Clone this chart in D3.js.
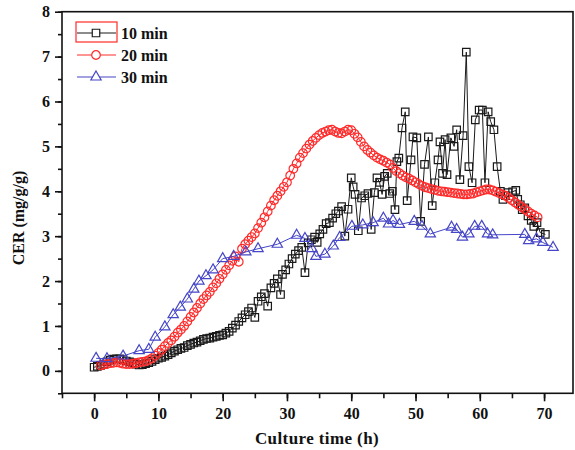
<!DOCTYPE html>
<html>
<head>
<meta charset="utf-8">
<script src="https://cdn.jsdelivr.net/npm/d3@7"></script>
<style>
  html, body { margin: 0; padding: 0; background: #fff; }
  svg { display: block; }
  text { font-family: "Liberation Serif", "Times New Roman", serif; font-weight: bold; fill: #111; }
</style>
</head>
<body>
<svg id="chart" width="575" height="450"></svg>
<script>
// 10 min interval: culture time (h) and CER (mg/g/g)
const t10 = [0.0,0.5,1.0,1.5,2.0,2.5,3.0,3.5,4.0,4.5,5.0,5.5,6.0,6.5,7.0,7.5,8.0,8.5,9.0,9.5,
  10.0,10.5,11.0,11.5,12.0,12.5,13.0,13.5,14.0,14.5,15.0,15.5,16.0,16.5,17.0,17.5,18.0,18.5,19.0,19.5,
  20.0,20.5,21.0,21.5,22.0,22.5,23.0,23.5,24.0,24.5,25.0,25.5,26.0,26.5,27.0,27.5,28.0,28.5,29.0,29.3,
  29.8,30.3,30.8,31.3,31.8,32.3,32.8,33.3,33.8,34.3,34.7,35.1,35.6,36.1,36.6,37.1,37.6,38.0,38.5,39.0,
  39.5,40.0,40.3,40.6,41.1,41.6,42.1,42.6,43.1,43.6,44.0,44.4,44.8,45.2,45.6,46.0,46.4,46.8,47.1,47.4,
  47.9,48.4,48.7,49.3,49.6,50.2,50.8,51.4,52.0,52.6,53.0,53.5,53.8,54.2,54.6,54.9,55.5,56.0,56.4,56.9,
  57.4,57.9,58.3,58.8,59.3,59.9,60.4,60.8,61.3,61.7,62.2,62.7,63.2,63.6,64.0,64.4,65.1,65.6,65.9,66.3,
  66.6,67.0,67.5,68.0,68.4,68.9,69.4,70.2];
const cer10 = [0.08,0.10,0.12,0.15,0.20,0.24,0.26,0.27,0.27,0.25,0.22,0.20,0.18,0.15,0.13,0.14,0.16,0.18,0.21,0.25,
  0.28,0.30,0.33,0.36,0.40,0.44,0.47,0.50,0.52,0.56,0.59,0.62,0.64,0.67,0.70,0.72,0.73,0.75,0.77,0.79,
  0.80,0.84,0.88,0.95,1.02,1.10,1.18,1.25,1.32,1.40,1.19,1.55,1.65,1.72,1.44,1.85,1.95,2.05,1.70,2.15,
  2.25,2.38,2.50,2.60,2.68,2.75,2.19,2.85,2.92,2.98,2.86,3.05,3.15,3.28,3.30,3.40,3.50,3.56,3.66,3.00,
  3.60,4.30,4.10,3.93,3.12,3.85,3.90,3.95,3.15,3.97,4.30,4.20,3.93,4.33,4.40,3.95,4.00,3.59,4.66,4.74,
  5.41,5.77,3.79,4.70,5.21,5.19,3.33,4.60,5.21,3.68,4.19,4.70,5.10,4.40,5.15,4.37,5.19,5.00,5.37,4.26,
  5.24,7.10,4.55,4.19,5.59,5.81,5.81,4.19,5.77,5.55,5.37,4.55,4.00,3.82,3.90,3.97,3.99,4.02,3.82,3.70,
  3.59,3.63,3.45,3.35,3.22,3.30,3.08,3.04];

// 20 min interval
const t20 = [1.0,1.5,2.0,2.5,3.0,3.5,4.0,4.5,5.0,5.5,6.0,6.5,7.0,7.5,8.0,8.5,9.0,9.5,
  10.0,10.5,11.0,11.5,12.0,12.5,13.0,13.5,14.0,14.5,15.0,15.5,16.0,16.5,17.0,17.5,18.0,18.5,19.0,19.5,
  20.0,20.5,21.0,21.5,22.0,22.5,23.0,23.5,24.0,24.5,25.0,25.5,26.0,26.5,27.0,27.5,28.0,28.5,29.0,29.5,
  30.0,30.5,31.0,31.5,32.0,32.5,33.0,33.5,34.0,34.5,35.0,35.5,36.0,36.5,37.0,37.5,38.0,38.5,39.0,39.5,
  40.0,40.5,41.0,41.5,42.0,42.5,43.0,43.5,44.0,44.5,45.0,45.5,46.0,46.5,47.0,47.5,48.0,48.5,49.0,49.5,
  50.0,50.5,51.0,51.5,52.0,52.5,53.0,53.5,54.0,54.5,55.0,55.5,56.0,56.5,57.0,57.5,58.0,58.5,59.0,59.5,
  60.0,60.5,61.0,61.5,62.0,62.5,63.0,63.5,64.0,64.5,65.0,65.5,66.0,66.5,67.0,67.5,68.0,68.5,69.0];
const cer20 = [0.12,0.14,0.15,0.17,0.18,0.19,0.18,0.16,0.15,0.15,0.16,0.17,0.19,0.20,0.21,0.24,0.28,0.34,
  0.40,0.47,0.55,0.62,0.68,0.76,0.85,0.92,1.00,1.10,1.20,1.30,1.40,1.50,1.60,1.68,1.76,1.86,1.95,2.05,
  2.15,2.25,2.35,2.45,2.55,2.43,2.72,2.82,2.90,2.98,3.06,3.18,3.30,3.42,3.55,3.68,3.80,3.90,4.00,4.10,
  4.20,4.35,4.50,4.62,4.75,4.85,4.95,5.04,5.12,5.19,5.25,5.30,5.33,5.36,5.37,5.33,5.30,5.29,5.33,5.37,
  5.36,5.28,5.20,5.10,5.00,4.92,4.86,4.80,4.75,4.71,4.68,4.64,4.60,4.52,4.45,4.40,4.35,4.31,4.28,4.24,
  4.20,4.16,4.12,4.09,4.07,4.05,4.03,4.01,4.00,3.99,3.98,3.97,3.96,3.95,3.94,3.93,3.93,3.94,3.95,3.98,
  4.00,4.02,4.04,4.04,4.02,3.99,3.96,3.93,3.90,3.85,3.80,3.75,3.70,3.65,3.60,3.55,3.50,3.46,3.42];

// 30 min interval
const t30 = [0.3,2.0,4.5,7.0,8.5,9.5,11.0,12.3,13.4,14.5,15.5,16.3,17.4,18.5,20.0,21.7,23.6,25.5,28.5,31.5,
  32.8,33.9,34.5,35.9,37.2,38.2,40.1,41.8,43.4,45.0,45.8,46.5,47.5,49.8,51.0,52.3,55.6,56.4,57.3,58.3,
  59.2,60.3,61.2,62.0,67.0,67.6,68.8,69.8,71.4];
const cer30 = [0.28,0.27,0.33,0.45,0.48,0.75,0.98,1.25,1.42,1.60,1.82,2.00,2.12,2.25,2.50,2.55,2.65,2.72,2.82,3.02,
  2.95,2.72,2.55,2.60,2.78,2.97,3.22,3.25,3.30,3.40,3.27,3.35,3.26,3.33,3.22,3.05,3.20,3.15,2.98,3.05,
  3.22,3.22,3.05,3.03,3.04,2.90,2.94,2.86,2.75];

const seriesNames = ["10 min", "20 min", "30 min"];
const xTicks = [0, 10, 20, 30, 40, 50, 60, 70];
const yTicks = [0, 1, 2, 3, 4, 5, 6, 7, 8];
const xTitle = "Culture time (h)";
const yTitle = "CER (mg/g/g)";

const series = [
  { name: seriesNames[0], t: t10, v: cer10, color: "#1a1a1a", symbol: d3.symbolSquare, size: 56 },
  { name: seriesNames[1], t: t20, v: cer20, color: "#ff2b2b", symbol: d3.symbolCircle, size: 58 },
  { name: seriesNames[2], t: t30, v: cer30, color: "#4646c8", symbol: d3.symbolTriangle, size: 46 }
];

const FONT = '"Liberation Serif", "Times New Roman", serif';
const svg = d3.select("#chart");
const plotL = 62, plotR = 573, plotT = 11.7, plotB = 393.3;

const x = d3.scaleLinear().domain([-5, 74.5]).range([plotL, plotR]);
const y = d3.scaleLinear().domain([-0.5, 8]).range([plotB, plotT]);

// frame
svg.append("rect")
  .attr("x", plotL).attr("y", plotT)
  .attr("width", plotR - plotL).attr("height", plotB - plotT)
  .attr("fill", "none").attr("stroke", "#111").attr("stroke-width", 1.6);

function styleTicks(g) {
  g.select(".domain").remove();
  g.selectAll("line").attr("stroke", "#111").attr("stroke-width", 1.6);
  g.selectAll("text").attr("font-size", 16).attr("font-family", FONT)
    .attr("font-weight", "bold").attr("fill", "#111");
}

// x axis: minor and major ticks
const xMinor = d3.range(-5, 75, 5);
svg.append("g").attr("transform", `translate(0,${plotB})`)
  .call(d3.axisBottom(x).tickValues(xMinor).tickSize(5).tickFormat(""))
  .call(styleTicks);
svg.append("g").attr("transform", `translate(0,${plotB})`)
  .call(d3.axisBottom(x).tickValues(xTicks).tickSize(8).tickPadding(6).tickFormat(d3.format("d")))
  .call(styleTicks);

// y axis: minor and major ticks
const yMinor = d3.range(-0.5, 8.01, 0.5);
svg.append("g").attr("transform", `translate(${plotL},0)`)
  .call(d3.axisLeft(y).tickValues(yMinor).tickSize(4).tickFormat(""))
  .call(styleTicks);
svg.append("g").attr("transform", `translate(${plotL},0)`)
  .call(d3.axisLeft(y).tickValues(yTicks).tickSize(7).tickPadding(5).tickFormat(d3.format("d")))
  .call(styleTicks);

// axis titles
svg.append("text")
  .attr("x", 317).attr("y", 444)
  .attr("text-anchor", "middle").attr("font-size", 17)
  .attr("letter-spacing", 0.4)
  .text(xTitle);
svg.append("text")
  .attr("transform", `translate(24,218) rotate(-90)`)
  .attr("text-anchor", "middle").attr("font-size", 16)
  .attr("font-weight", "normal")
  .text(yTitle);

// data: connecting line and open markers per series
const plot = svg.append("g");
const lineGen = d3.line().x(d => x(d[0])).y(d => y(d[1]));
series.forEach(s => {
  const pts = s.t.map((t, i) => [t, s.v[i]]);
  plot.append("path").datum(pts)
    .attr("d", lineGen)
    .attr("fill", "none").attr("stroke", s.color).attr("stroke-width", 1);
  plot.selectAll(null).data(pts).enter().append("path")
    .attr("transform", d => `translate(${x(d[0])},${y(d[1])})`)
    .attr("d", d3.symbol().type(s.symbol).size(s.size))
    .attr("fill", "none").attr("stroke", s.color).attr("stroke-width", 1.2);
});

// legend
const lg = svg.append("g");
const rowY = [33, 55, 77];
series.forEach((s, i) => {
  const yy = rowY[i];
  lg.append("line").attr("x1", 77).attr("x2", 116).attr("y1", yy).attr("y2", yy)
    .attr("stroke", s.color).attr("stroke-width", 1.2);
  lg.append("path").attr("transform", `translate(96,${yy})`)
    .attr("d", d3.symbol().type(s.symbol).size(s.size))
    .attr("fill", "#fff").attr("stroke", s.color).attr("stroke-width", 1.2);
  lg.append("text").attr("x", 121).attr("y", yy + 5.5).attr("font-size", 16).text(s.name);
});
lg.append("rect").attr("x", 76).attr("y", 22).attr("width", 41).attr("height", 20)
  .attr("fill", "none").attr("stroke", "#ff3b3b").attr("stroke-width", 1.3);
</script>
</body>
</html>
